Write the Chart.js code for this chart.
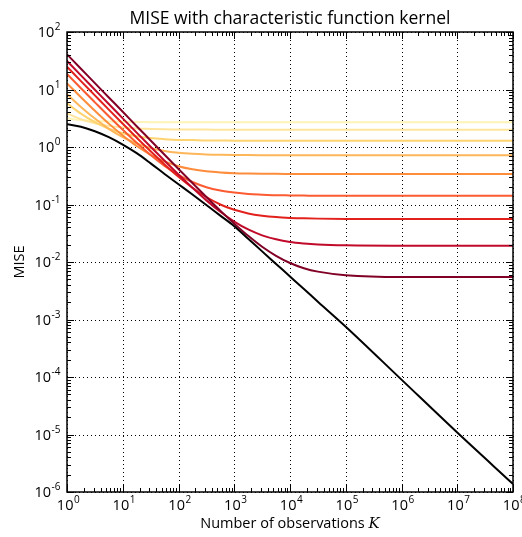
<!DOCTYPE html>
<html>
<head>
<meta charset="utf-8">
<script src="https://cdn.jsdelivr.net/npm/chart.js@4.4.1/dist/chart.umd.min.js"></script>
<style>
  html, body { margin: 0; padding: 0; background: #fff; }
</style>
</head>
<body>
<canvas id="mise-chart" width="522" height="537"></canvas>
<script>
// Number of observations K (shared x values of every curve)
const sampleSizes = [1, 1.778, 3.162, 5.623, 10, 17.78, 31.62, 56.23, 100, 177.8, 316.2, 562.3,
    1000, 1778, 3162, 5623, 1e4, 1.778e4, 3.162e4, 1e5, 1e6, 1e7, 1e8];

// black curve
const optimalMise = [2.5, 2.25, 1.88, 1.48, 1.1, 0.78, 0.52, 0.34, 0.225, 0.149, 0.098, 0.0641,
    0.042, 0.0254, 0.0153, 0.00926, 0.0056, 0.00339, 0.00204, 0.00075, 0.00009, 0.0000108, 0.00000138];

// coloured curves, lightest to darkest
const kernelMise1 = [3.15, 2.95, 2.84, 2.77, 2.74, 2.72, 2.70, 2.70, 2.69, 2.69, 2.69, 2.69,
    2.69, 2.69, 2.69, 2.69, 2.69, 2.69, 2.69, 2.69, 2.69, 2.69, 2.69];
const kernelMise2 = [3.85, 3.04, 2.59, 2.33, 2.19, 2.10, 2.06, 2.03, 2.02, 2.01, 2.01, 2.00,
    2.00, 2.00, 2.00, 2.00, 2.00, 2.00, 2.00, 2.00, 2.00, 2.00, 2.00];
const kernelMise3 = [5.75, 3.80, 2.70, 2.08, 1.74, 1.54, 1.43, 1.37, 1.33, 1.32, 1.30, 1.30,
    1.29, 1.29, 1.29, 1.29, 1.29, 1.29, 1.29, 1.29, 1.29, 1.29, 1.29];
const kernelMise4 = [8.30, 4.98, 3.12, 2.07, 1.48, 1.15, 0.960, 0.855, 0.796, 0.763, 0.744, 0.734,
    0.728, 0.724, 0.722, 0.721, 0.72, 0.72, 0.72, 0.72, 0.72, 0.72, 0.72];
const kernelMise5 = [12.8, 7.35, 4.28, 2.55, 1.59, 1.04, 0.733, 0.561, 0.464, 0.409, 0.378, 0.361,
    0.351, 0.346, 0.343, 0.341, 0.340, 0.339, 0.339, 0.339, 0.339, 0.339, 0.339];
const kernelMise6 = [18.6, 10.5, 5.98, 3.42, 1.99, 1.18, 0.726, 0.470, 0.327, 0.246, 0.200, 0.175,
    0.161, 0.152, 0.148, 0.145, 0.144, 0.143, 0.142, 0.142, 0.142, 0.142, 0.142];
const kernelMise7 = [24.9, 14.0, 7.91, 4.47, 2.54, 1.45, 0.842, 0.498, 0.304, 0.196, 0.135, 0.100,
    0.0808, 0.0700, 0.0639, 0.0604, 0.0585, 0.0574, 0.0568, 0.0562, 0.056, 0.056, 0.056];
const kernelMise8 = [31.3, 17.6, 9.91, 5.58, 3.15, 1.78, 1.01, 0.575, 0.332, 0.195, 0.118, 0.0748,
    0.0505, 0.0368, 0.0291, 0.0248, 0.0223, 0.0210, 0.0202, 0.0195, 0.0192, 0.0192, 0.0192];
const kernelMise9 = [40.9, 23.0, 12.9, 7.27, 4.10, 2.30, 1.30, 0.733, 0.415, 0.236, 0.135, 0.0782,
    0.0464, 0.0285, 0.0184, 0.0128, 0.0096, 0.0078, 0.0068, 0.0059, 0.0055, 0.0055, 0.0055];

const kernelSeries = [kernelMise1, kernelMise2, kernelMise3, kernelMise4, kernelMise5,
    kernelMise6, kernelMise7, kernelMise8, kernelMise9];
const kernelColors = ['#fff4b6', '#ffe59c', '#fed470', '#feb65a', '#fd8d3c',
    '#fc5b32', '#e3211c', '#c10a2a', '#800026'];

// decade tick labels (exponents of 10)
const xTickExponents = [0, 1, 2, 3, 4, 5, 6, 7, 8];
const yTickExponents = [-6, -5, -4, -3, -2, -1, 0, 1, 2];

const titleText = 'MISE with characteristic function kernel';
const xTitleText = 'Number of observations ';
const xTitleVar = 'K';
const yTitleText = 'MISE';

const SANS = '"Open Sans", "DejaVu Sans", sans-serif';

function toPoints(values) {
    return sampleSizes.map((k, i) => ({ x: k, y: values[i] }));
}

function lineSet(values, color) {
    return {
        data: toPoints(values),
        borderColor: color,
        backgroundColor: color,
        borderWidth: 2,
        pointRadius: 0,
        fill: false,
        cubicInterpolationMode: 'monotone'
    };
}

// first dataset is drawn on top, so black goes first and the lightest last
let datasets = [lineSet(optimalMise, '#000000')];
for (let i = kernelSeries.length - 1; i >= 0; i--) {
    datasets.push(lineSet(kernelSeries[i], kernelColors[i]));
}

function supLabel(ctx, x, y, exp, align) {
    const base = '10';
    const sup = String(exp);
    ctx.font = '14.5px ' + SANS;
    const wb = ctx.measureText(base).width;
    ctx.font = '10px ' + SANS;
    const ws = ctx.measureText(sup).width;
    let left = align === 'right' ? x - wb - ws : x - (wb + ws) / 2;
    ctx.textAlign = 'left';
    ctx.textBaseline = 'alphabetic';
    ctx.font = '14.5px ' + SANS;
    ctx.fillText(base, left, y);
    ctx.font = '10px ' + SANS;
    ctx.fillText(sup, left + wb + 0.5, y - 7);
}

// grid, frame, inward ticks and all text, placed with the chart's own scales
const axisDecor = {
    id: 'axisDecor',
    beforeDatasetsDraw(chart) {
        const { ctx, chartArea: a, scales: { x, y } } = chart;
        ctx.save();
        ctx.strokeStyle = '#000';
        ctx.lineWidth = 1;
        ctx.setLineDash([1, 3]);
        xTickExponents.forEach(e => {
            const px = Math.round(x.getPixelForValue(Math.pow(10, e))) + 0.5;
            ctx.beginPath(); ctx.moveTo(px, a.top); ctx.lineTo(px, a.bottom); ctx.stroke();
        });
        yTickExponents.forEach(e => {
            const py = Math.round(y.getPixelForValue(Math.pow(10, e))) + 0.5;
            ctx.beginPath(); ctx.moveTo(a.left, py); ctx.lineTo(a.right, py); ctx.stroke();
        });
        ctx.restore();
    },
    afterDatasetsDraw(chart) {
        const { ctx, chartArea: a, scales: { x, y } } = chart;
        ctx.save();
        ctx.strokeStyle = '#000';
        ctx.lineWidth = 1;
        ctx.setLineDash([]);

        const tick = (x1, y1, x2, y2) => {
            ctx.beginPath(); ctx.moveTo(x1, y1); ctx.lineTo(x2, y2); ctx.stroke();
        };
        xTickExponents.forEach(e => {
            for (let m = 1; m <= 9; m++) {
                const v = m * Math.pow(10, e);
                if (v > x.max) break;
                const len = m === 1 ? 7 : 4;
                const px = Math.round(x.getPixelForValue(v)) + 0.5;
                tick(px, a.bottom, px, a.bottom - len);
                tick(px, a.top, px, a.top + len);
            }
        });
        yTickExponents.forEach(e => {
            for (let m = 1; m <= 9; m++) {
                const v = m * Math.pow(10, e);
                if (v > y.max) break;
                const len = m === 1 ? 7 : 4;
                const py = Math.round(y.getPixelForValue(v)) + 0.5;
                tick(a.left, py, a.left + len, py);
                tick(a.right, py, a.right - len, py);
            }
        });

        // frame
        ctx.lineWidth = 1.5;
        ctx.strokeRect(a.left, a.top, a.right - a.left, a.bottom - a.top);

        // tick labels
        ctx.fillStyle = '#000';
        xTickExponents.forEach(e => {
            supLabel(ctx, x.getPixelForValue(Math.pow(10, e)) + 1, a.bottom + 18, e, 'center');
        });
        yTickExponents.forEach(e => {
            supLabel(ctx, a.left - 7, y.getPixelForValue(Math.pow(10, e)) + 5, e, 'right');
        });

        // title
        ctx.font = '17.5px ' + SANS;
        ctx.textAlign = 'center';
        ctx.fillText(titleText, (a.left + a.right) / 2, 24);

        // x title with italic K
        ctx.font = '14.5px ' + SANS;
        const w1 = ctx.measureText(xTitleText).width;
        ctx.font = 'italic 15px "DejaVu Serif", serif';
        const w2 = ctx.measureText(xTitleVar).width;
        let sx = (a.left + a.right) / 2 - (w1 + w2) / 2;
        ctx.textAlign = 'left';
        ctx.font = '14.5px ' + SANS;
        ctx.fillText(xTitleText, sx, 528);
        ctx.font = 'italic 15px "DejaVu Serif", serif';
        ctx.fillText(xTitleVar, sx + w1, 528);

        // y title
        ctx.translate(24, (a.top + a.bottom) / 2);
        ctx.rotate(-Math.PI / 2);
        ctx.textAlign = 'center';
        ctx.font = '14.5px ' + SANS;
        ctx.fillText(yTitleText, 0, 0);
        ctx.restore();
    }
};

const miseChart = new Chart(document.getElementById('mise-chart'), {
    type: 'line',
    data: { datasets: datasets },
    options: {
        responsive: false,
        animation: false,
        devicePixelRatio: 1,
        layout: { padding: { left: 67, right: 9, top: 32, bottom: 45 } },
        plugins: { legend: { display: false }, tooltip: { enabled: false } },
        scales: {
            x: { type: 'logarithmic', min: 1, max: 1e8, display: false },
            y: { type: 'logarithmic', min: 1e-6, max: 1e2, display: false }
        }
    },
    plugins: [axisDecor]
});
</script>
</body>
</html>
